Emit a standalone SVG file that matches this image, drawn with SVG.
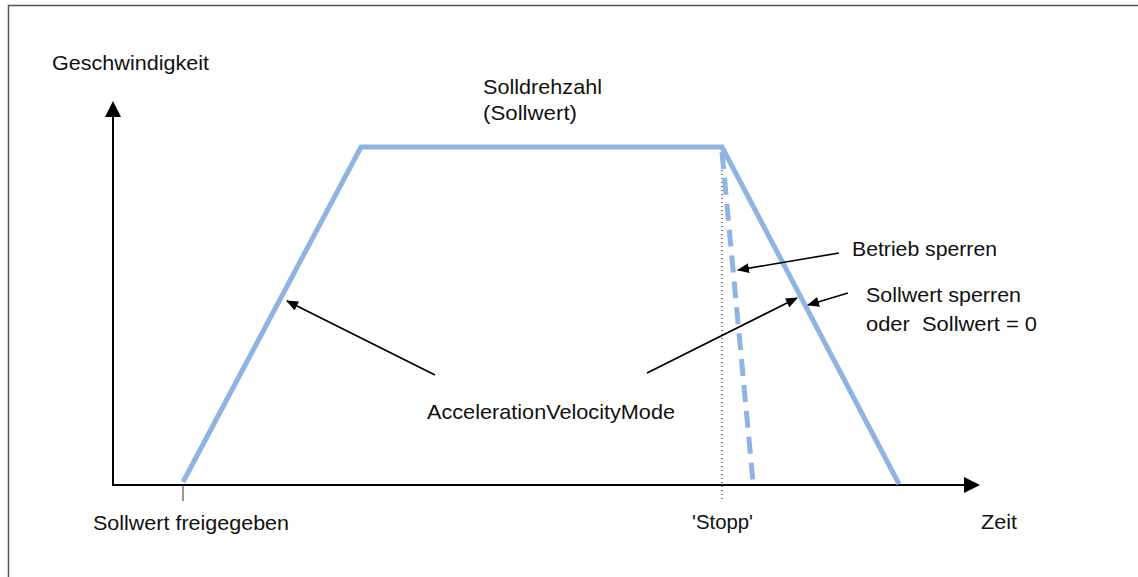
<svg xmlns="http://www.w3.org/2000/svg" width="1138" height="577" viewBox="0 0 1138 577">
<style>
  text { font-family: "Liberation Sans", Arial, sans-serif; font-size: 21px; fill: #111; }
  .axis { stroke: #000; stroke-width: 2; fill: none; }
  .ann { stroke: #000; stroke-width: 1.6; fill: none; marker-end: url(#ah); }
  .curve { stroke: #8DB4E2; stroke-width: 5; fill: none; }
</style>
<defs>
  <marker id="ah" viewBox="0 0 12 10" refX="11" refY="5" markerWidth="12" markerHeight="10" markerUnits="userSpaceOnUse" orient="auto">
    <path d="M0,0 L12,5 L0,10 Z" fill="#000"/>
  </marker>
</defs>
<rect width="1138" height="577" fill="#fff"/>
<g id="frame">
  <path d="M8.5,577 L8.5,5.5 L1138,5.5" stroke="#555" stroke-width="1.5" fill="none"/>
</g>
<g id="axes">
  <path class="axis" d="M113,116 L113,485 L966,485"/>
  <path d="M113,101 L105,117 L121,117 Z" fill="#000"/>
  <path d="M980,485 L964,477 L964,493 Z" fill="#000"/>
  <line x1="183" y1="485" x2="183" y2="501" stroke="#333" stroke-width="1"/>
  <line x1="722" y1="150" x2="722" y2="500" stroke="#000" stroke-width="1" stroke-dasharray="1,3"/>
</g>
<g id="curves">
  <path class="curve" d="M183,482 L361,147 L722,147 L899,484"/>
  <path class="curve" d="M722,152 L753,482" stroke-dasharray="17,9"/>
</g>
<g id="connectors">
  <line class="ann" x1="435" y1="375" x2="287" y2="301"/>
  <line class="ann" x1="647" y1="373" x2="797" y2="298"/>
  <line class="ann" x1="839" y1="253" x2="738" y2="270"/>
  <line class="ann" x1="848" y1="293" x2="808" y2="305"/>
</g>
<g id="labels">
  <text x="52" y="70" textLength="157" lengthAdjust="spacingAndGlyphs">Geschwindigkeit</text>
  <text x="483" y="94" textLength="119" lengthAdjust="spacingAndGlyphs">Solldrehzahl</text>
  <text x="483" y="120" textLength="94" lengthAdjust="spacingAndGlyphs">(Sollwert)</text>
  <text x="852" y="256" textLength="145" lengthAdjust="spacingAndGlyphs">Betrieb sperren</text>
  <text x="866" y="302" textLength="155" lengthAdjust="spacingAndGlyphs">Sollwert sperren</text>
  <text x="866" y="331" textLength="171" lengthAdjust="spacingAndGlyphs" xml:space="preserve">oder  Sollwert = 0</text>
  <text x="427" y="419" textLength="248" lengthAdjust="spacingAndGlyphs">AccelerationVelocityMode</text>
  <text x="93" y="530" textLength="196" lengthAdjust="spacingAndGlyphs">Sollwert freigegeben</text>
  <text x="692" y="529" textLength="61" lengthAdjust="spacingAndGlyphs">'Stopp'</text>
  <text x="981" y="529" textLength="36" lengthAdjust="spacingAndGlyphs">Zeit</text>
</g>
</svg>
